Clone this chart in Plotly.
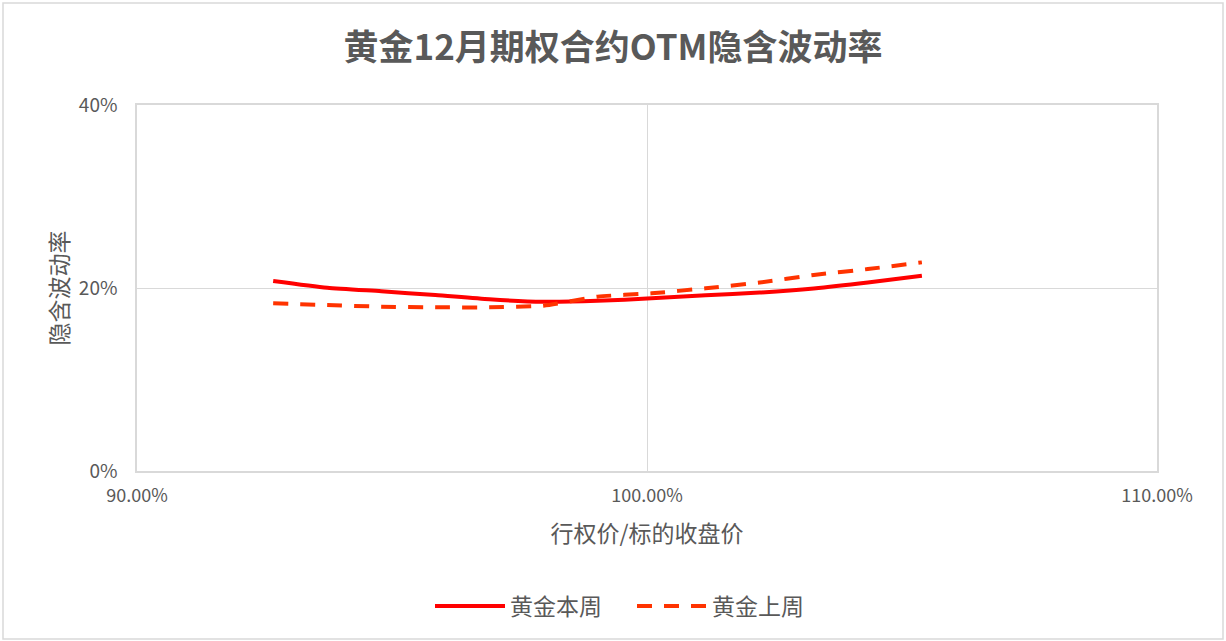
import plotly.graph_objects as go

moneyness = [92.67, 93.73, 94.79, 95.85, 96.91, 97.97, 99.03, 100.09, 101.15, 102.21, 103.27, 104.33, 105.39]
this_week = [20.77, 20.03, 19.64, 19.23, 18.76, 18.50, 18.60, 18.87, 19.20, 19.50, 19.95, 20.60, 21.35]
last_week = [18.32, 18.14, 17.96, 17.89, 17.89, 18.07, 19.05, 19.42, 19.97, 20.60, 21.42, 22.07, 22.80]

series_names = ["黄金本周", "黄金上周"]
x_ticks = [90, 100, 110]
x_tick_text = ["90.00%", "100.00%", "110.00%"]
y_ticks = [0, 20, 40]
y_tick_text = ["0%", "20%", "40%"]

FONT = "Noto Sans CJK SC"
TXT = "#595959"
GRID = "#D9D9D9"

fig = go.Figure()
fig.add_trace(go.Scatter(x=moneyness, y=this_week, name=series_names[0], mode="lines",
                         line=dict(color="#FF0000", width=4, shape="spline", smoothing=0.6)))
fig.add_trace(go.Scatter(x=moneyness, y=last_week, name=series_names[1], mode="lines",
                         line=dict(color="#FF3300", width=4, dash="15px,12px", shape="spline", smoothing=0.6)))

W, H = 1226, 641
L, R, T, B = 137, 1157, 105, 471
pw, ph = R - L, B - T

fig.update_layout(
    width=W, height=H,
    margin=dict(l=L, r=W - R, t=T, b=H - B),
    paper_bgcolor="white", plot_bgcolor="white",
    font=dict(family=FONT, color=TXT),
    title=dict(text="<b>黄金12月期权合约OTM隐含波动率</b>", x=0.5, xanchor="center",
               y=1 - 48 / H, yanchor="middle", font=dict(size=35, color=TXT, family=FONT)),
    showlegend=True,
    legend=dict(orientation="h", x=(430 - L) / pw, xanchor="left", y=(B - 606) / ph, yanchor="middle",
                font=dict(size=23, color=TXT), itemwidth=70, entrywidth=117, entrywidthmode="pixels",
                tracegroupgap=0),
    xaxis=dict(range=[90, 110], tickvals=x_ticks, ticktext=x_tick_text,
               showgrid=True, gridcolor=GRID, gridwidth=1,
               showline=True, linecolor=GRID, linewidth=1.5, mirror=True,
               zeroline=False, ticks="", tickfont=dict(size=18, color=TXT), ticklabelstandoff=8,
               title=dict(text="行权价/标的收盘价", font=dict(size=23, color=TXT), standoff=20)),
    yaxis=dict(range=[0, 40], tickvals=y_ticks, ticktext=y_tick_text,
               showgrid=True, gridcolor=GRID, gridwidth=1,
               showline=True, linecolor=GRID, linewidth=1.5, mirror=True,
               zeroline=False, ticks="", tickfont=dict(size=19, color=TXT), ticklabelstandoff=14,
               title=dict(text="隐含波动率", font=dict(size=23, color=TXT), standoff=4)),
    shapes=[dict(type="rect", xref="paper", yref="paper",
                 x0=(3 - L) / pw, x1=(1223 - L) / pw, y0=(B - 639) / ph, y1=(B - 3) / ph,
                 line=dict(color=GRID, width=1.5), fillcolor="rgba(0,0,0,0)", layer="below")],
)

fig.write_html("out.html", config={"displayModeBar": False},
               post_script="document.body.style.margin='0';document.body.style.overflow='hidden';")
